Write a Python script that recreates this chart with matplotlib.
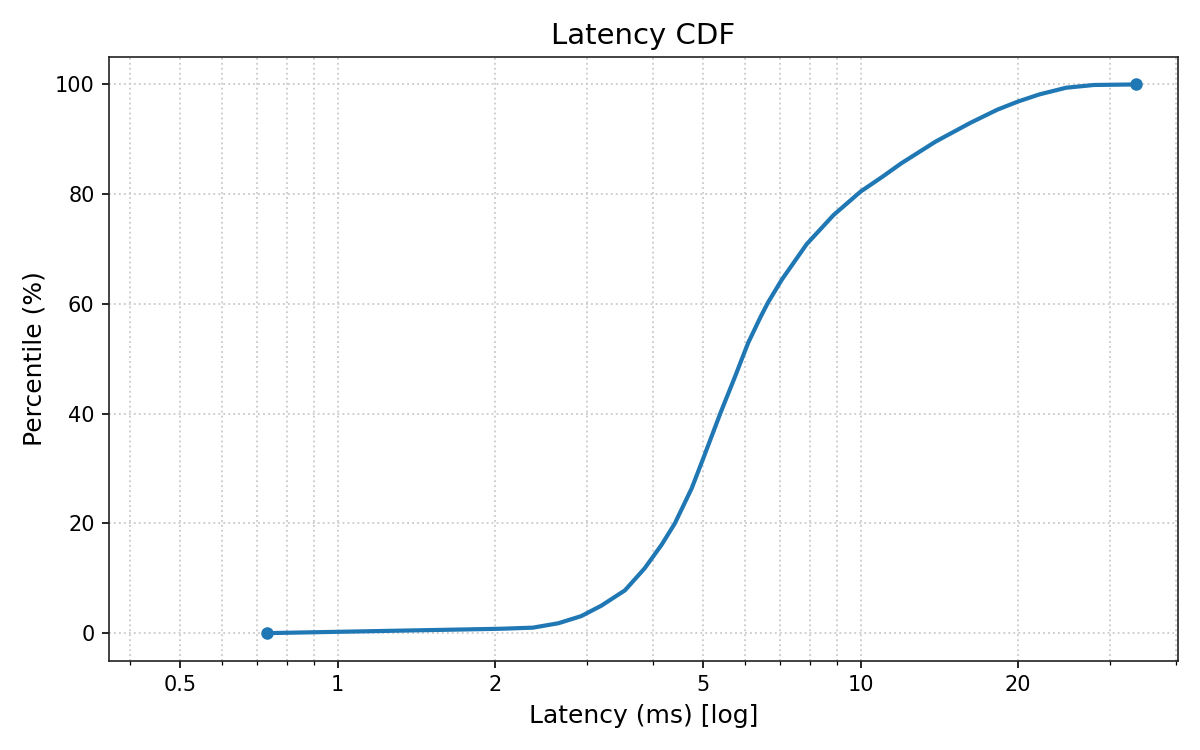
import matplotlib
matplotlib.use("Agg")
import matplotlib.pyplot as plt
from matplotlib.ticker import FixedLocator, FuncFormatter, LogLocator


# latency (ms) at each percentile
latency_ms = [
	0.731, 2.05, 2.36, 2.64, 2.92, 3.19, 3.54, 3.86, 4.16, 4.41,
	4.75, 5.0, 5.4, 5.74, 5.92, 6.09, 6.43, 6.65, 7.06, 7.88,
	8.87, 10.0, 10.97, 11.94, 13.91, 16.2, 18.24, 20.0, 21.98, 24.7,
	27.9, 33.6,
]
percentile = [
	0.0, 0.8, 1.0, 1.8, 3.1, 5.0, 7.8, 11.8, 16.1, 20.0,
	26.4, 31.9, 40.3, 46.6, 49.9, 52.9, 57.6, 60.3, 64.4, 70.9,
	76.2, 80.5, 83.1, 85.6, 89.6, 93.0, 95.4, 96.9, 98.2, 99.4,
	99.9, 100.0,
]
major_ticks = [0.5, 1, 2, 5, 10, 20]


fig, ax = plt.subplots(figsize=(8, 5), dpi=150)

ax.plot(
	latency_ms, percentile,
	color="#1f77b4", linewidth=2,
	marker="o", markersize=5, markevery=[0, len(latency_ms) - 1],
)

ax.set_xscale("log")
ax.set_xlim(min(latency_ms) * 0.5, max(latency_ms) * 1.2)
ax.xaxis.set_major_locator(FixedLocator(major_ticks))
ax.xaxis.set_major_formatter(FuncFormatter(lambda v, _: f"{v:g}"))
ax.xaxis.set_minor_locator(LogLocator(base=10, subs=range(1, 10)))
ax.xaxis.set_minor_formatter(FuncFormatter(lambda v, _: ""))

ax.grid(which="both", linestyle=":", color="#cccccc", linewidth=0.9)
ax.tick_params(labelsize=10)
for spine in ax.spines.values():
	spine.set_color("#222222")

ax.set_title("Latency CDF", fontsize=14)
ax.set_xlabel("Latency (ms) [log]", fontsize=12)
ax.set_ylabel("Percentile (%)", fontsize=12)

fig.tight_layout()
fig.savefig("out.png")
